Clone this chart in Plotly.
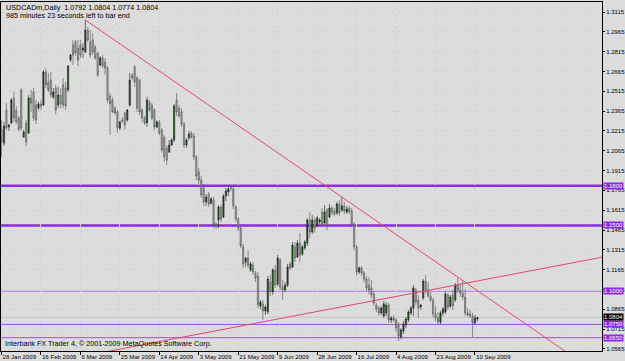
import plotly.graph_objects as go

# ---- Data : daily USDCAD bars, index 0 = 28 Jan 2009 ----
OPEN = [
    1.2222, 1.2123, 1.2373, 1.2245, 1.2275, 1.2464, 1.2373, 1.2313, 1.2525, 1.2169,
    1.2275, 1.2199, 1.2464, 1.2510, 1.2411, 1.2388, 1.2419, 1.2411, 1.2661, 1.2585,
    1.2600, 1.2472, 1.2540, 1.2411, 1.2487, 1.2563, 1.2540, 1.2525, 1.2752, 1.2865,
    1.2888, 1.2843, 1.2865, 1.2828, 1.2812, 1.2979, 1.2888, 1.2903, 1.2850, 1.2805,
    1.2714, 1.2767, 1.2737, 1.2691, 1.2479, 1.2449, 1.2388, 1.2358, 1.2237, 1.2298,
    1.2351, 1.2298, 1.2411, 1.2638, 1.2699, 1.2616, 1.2600, 1.2373, 1.2313, 1.2275,
    1.2434, 1.2411, 1.2373, 1.2245, 1.2283, 1.2222, 1.2169, 1.2086, 1.2055, 1.2108,
    1.2146, 1.2449, 1.2388, 1.2358, 1.2267, 1.2108, 1.2161, 1.2199, 1.2177, 1.2018,
    1.1904, 1.1843, 1.1783, 1.1677, 1.1737, 1.1669, 1.1692, 1.1510, 1.1540, 1.1639,
    1.1563, 1.1722, 1.1753, 1.1783, 1.1775, 1.1639, 1.1548, 1.1480, 1.1336, 1.1223,
    1.1253, 1.1162, 1.1200, 1.1139, 1.1117, 1.0890, 1.0905, 1.0852, 1.0844, 1.1071,
    1.0996, 1.1162, 1.1056, 1.1238, 1.1033, 1.1011, 1.1048, 1.1208, 1.1185, 1.1336,
    1.1261, 1.1366, 1.1283, 1.1329, 1.1366, 1.1541, 1.1450, 1.1541, 1.1495, 1.1526,
    1.1601, 1.1518, 1.1616, 1.1563, 1.1631, 1.1609, 1.1594, 1.1662, 1.1616, 1.1647,
    1.1601, 1.1631, 1.1609, 1.1510, 1.1336, 1.1147, 1.1177, 1.1139, 1.1094, 1.1048,
    1.1026, 1.0980, 1.0897, 1.0874, 1.0837, 1.0814, 1.0837, 1.0897, 1.0784, 1.0799,
    1.0784, 1.0746, 1.0655, 1.0700, 1.0746, 1.0784, 1.0837, 1.0874, 1.1011, 1.0935,
    1.0882, 1.0950, 1.1079, 1.1011, 1.0965, 1.0935, 1.0829, 1.0799, 1.0768, 1.0837,
    1.0844, 1.0973, 1.0890, 1.0973, 1.0935, 1.1048, 1.1011, 1.0988, 1.0958, 1.0837,
    1.0829, 1.0814, 1.0761, 1.0792,
]
HIGH = [
    1.2298, 1.2283, 1.2426, 1.2267, 1.2464, 1.2510, 1.2404, 1.2328, 1.2540, 1.2222,
    1.2298, 1.2487, 1.2525, 1.2540, 1.2449, 1.2434, 1.2449, 1.2676, 1.2691, 1.2653,
    1.2661, 1.2540, 1.2563, 1.2547, 1.2540, 1.2616, 1.2585, 1.2714, 1.2797, 1.2903,
    1.2903, 1.2903, 1.2903, 1.2880, 1.3055, 1.3002, 1.2979, 1.2956, 1.2865, 1.2812,
    1.2782, 1.2790, 1.2767, 1.2706, 1.2502, 1.2472, 1.2404, 1.2373, 1.2290, 1.2320,
    1.2358, 1.2381, 1.2653, 1.2653, 1.2714, 1.2631, 1.2608, 1.2388, 1.2328, 1.2472,
    1.2449, 1.2426, 1.2388, 1.2298, 1.2298, 1.2237, 1.2184, 1.2108, 1.2146, 1.2161,
    1.2419, 1.2502, 1.2411, 1.2388, 1.2283, 1.2161, 1.2214, 1.2214, 1.2199, 1.2033,
    1.1934, 1.1874, 1.1813, 1.1737, 1.1753, 1.1715, 1.1715, 1.1525, 1.1654, 1.1654,
    1.1737, 1.1783, 1.1790, 1.1806, 1.1798, 1.1654, 1.1563, 1.1495, 1.1359, 1.1261,
    1.1313, 1.1223, 1.1223, 1.1155, 1.1147, 1.0935, 1.0935, 1.0897, 1.1117, 1.1124,
    1.1177, 1.1200, 1.1276, 1.1253, 1.1086, 1.1071, 1.1208, 1.1223, 1.1374, 1.1374,
    1.1389, 1.1442, 1.1351, 1.1389, 1.1556, 1.1601, 1.1578, 1.1563, 1.1571, 1.1556,
    1.1631, 1.1654, 1.1631, 1.1662, 1.1647, 1.1631, 1.1677, 1.1692, 1.1715, 1.1677,
    1.1647, 1.1647, 1.1631, 1.1525, 1.1351, 1.1192, 1.1192, 1.1155, 1.1117, 1.1109,
    1.1086, 1.1003, 1.0912, 1.0890, 1.0890, 1.0927, 1.0920, 1.0912, 1.0814, 1.0822,
    1.0799, 1.0768, 1.0723, 1.0776, 1.0806, 1.0859, 1.0890, 1.1048, 1.1026, 1.0973,
    1.0905, 1.1094, 1.1124, 1.1071, 1.0996, 1.0950, 1.0890, 1.0844, 1.0852, 1.0882,
    1.1003, 1.0988, 1.0973, 1.1011, 1.1064, 1.1102, 1.1064, 1.1086, 1.1018, 1.0874,
    1.0859, 1.0837, 1.0822, 1.0804,
]
LOW = [
    1.2017, 1.2101, 1.2222, 1.2214, 1.2267, 1.2283, 1.2267, 1.2214, 1.2214, 1.2161,
    1.2101, 1.2192, 1.2358, 1.2290, 1.2267, 1.2373, 1.2373, 1.2404, 1.2540, 1.2510,
    1.2464, 1.2457, 1.2343, 1.2388, 1.2388, 1.2388, 1.2373, 1.2510, 1.2737, 1.2714,
    1.2782, 1.2706, 1.2767, 1.2767, 1.2805, 1.2888, 1.2767, 1.2790, 1.2752, 1.2623,
    1.2706, 1.2691, 1.2638, 1.2426, 1.2184, 1.2351, 1.2335, 1.2199, 1.2222, 1.2275,
    1.2222, 1.2283, 1.2396, 1.2600, 1.2547, 1.2358, 1.2335, 1.2283, 1.2260, 1.2245,
    1.2358, 1.2298, 1.2222, 1.2237, 1.2184, 1.2049, 1.1980, 1.1957, 1.2048, 1.2101,
    1.2131, 1.2328, 1.2313, 1.2245, 1.2086, 1.2086, 1.2146, 1.2154, 1.1995, 1.1843,
    1.1813, 1.1707, 1.1647, 1.1647, 1.1639, 1.1654, 1.1480, 1.1472, 1.1480, 1.1525,
    1.1556, 1.1684, 1.1722, 1.1760, 1.1624, 1.1525, 1.1457, 1.1329, 1.1177, 1.1185,
    1.1177, 1.1147, 1.1124, 1.1071, 1.0874, 1.0867, 1.0784, 1.0822, 1.0829, 1.0965,
    1.0973, 1.1026, 1.1040, 1.1011, 1.0935, 1.0996, 1.1033, 1.1162, 1.1177, 1.1223,
    1.1253, 1.1223, 1.1268, 1.1314, 1.1344, 1.1404, 1.1435, 1.1442, 1.1487, 1.1510,
    1.1495, 1.1510, 1.1465, 1.1556, 1.1578, 1.1571, 1.1578, 1.1571, 1.1601, 1.1586,
    1.1586, 1.1586, 1.1495, 1.1313, 1.1117, 1.1132, 1.1117, 1.1071, 1.1003, 1.0980,
    1.0950, 1.0890, 1.0844, 1.0814, 1.0822, 1.0799, 1.0814, 1.0761, 1.0761, 1.0768,
    1.0693, 1.0625, 1.0640, 1.0678, 1.0723, 1.0768, 1.0822, 1.0814, 1.0897, 1.0799,
    1.0859, 1.0935, 1.0980, 1.0950, 1.0920, 1.0806, 1.0776, 1.0746, 1.0753, 1.0814,
    1.0829, 1.0859, 1.0874, 1.0859, 1.0920, 1.0988, 1.0958, 1.0935, 1.0814, 1.0806,
    1.0799, 1.0655, 1.0746, 1.0774,
]
CLOSE = [
    1.2131, 1.2252, 1.2237, 1.2260, 1.2449, 1.2313, 1.2283, 1.2229, 1.2237, 1.2207,
    1.2131, 1.2464, 1.2426, 1.2313, 1.2298, 1.2419, 1.2404, 1.2661, 1.2563, 1.2525,
    1.2487, 1.2510, 1.2373, 1.2487, 1.2419, 1.2411, 1.2404, 1.2706, 1.2790, 1.2790,
    1.2805, 1.2752, 1.2790, 1.2843, 1.2979, 1.2903, 1.2790, 1.2812, 1.2767, 1.2638,
    1.2767, 1.2706, 1.2691, 1.2449, 1.2419, 1.2358, 1.2351, 1.2237, 1.2283, 1.2290,
    1.2260, 1.2373, 1.2600, 1.2616, 1.2585, 1.2388, 1.2358, 1.2313, 1.2275, 1.2449,
    1.2373, 1.2313, 1.2245, 1.2283, 1.2199, 1.2070, 1.2018, 1.1995, 1.2108, 1.2146,
    1.2404, 1.2358, 1.2328, 1.2267, 1.2108, 1.2146, 1.2192, 1.2169, 1.2018, 1.1874,
    1.1843, 1.1730, 1.1677, 1.1715, 1.1662, 1.1700, 1.1503, 1.1495, 1.1639, 1.1548,
    1.1722, 1.1760, 1.1775, 1.1780, 1.1647, 1.1548, 1.1480, 1.1344, 1.1208, 1.1253,
    1.1200, 1.1208, 1.1147, 1.1102, 1.0897, 1.0920, 1.0852, 1.0882, 1.1094, 1.0996,
    1.1162, 1.1048, 1.1253, 1.1033, 1.1011, 1.1048, 1.1185, 1.1177, 1.1351, 1.1253,
    1.1366, 1.1276, 1.1336, 1.1374, 1.1541, 1.1450, 1.1541, 1.1480, 1.1556, 1.1541,
    1.1510, 1.1601, 1.1495, 1.1631, 1.1601, 1.1586, 1.1662, 1.1594, 1.1647, 1.1609,
    1.1624, 1.1601, 1.1510, 1.1336, 1.1147, 1.1177, 1.1139, 1.1094, 1.1026, 1.1011,
    1.0973, 1.0912, 1.0867, 1.0837, 1.0874, 1.0905, 1.0897, 1.0784, 1.0799, 1.0784,
    1.0723, 1.0663, 1.0708, 1.0753, 1.0791, 1.0844, 1.0874, 1.1026, 1.0920, 1.0874,
    1.0897, 1.1079, 1.1011, 1.0965, 1.0935, 1.0829, 1.0799, 1.0768, 1.0837, 1.0867,
    1.0980, 1.0882, 1.0958, 1.0890, 1.1048, 1.1011, 1.0988, 1.0958, 1.0837, 1.0822,
    1.0814, 1.0761, 1.0799, 1.0804,
]

TICK_BARS = [0, 16, 32, 48, 64, 80, 96, 112, 128, 144, 160, 176, 192]
TICK_LABELS = ["28 Jan 2009", "16 Feb 2009", "6 Mar 2009", "25 Mar 2009", "14 Apr 2009",
               "3 May 2009", "21 May 2009", "9 Jun 2009", "28 Jun 2009", "16 Jul 2009",
               "4 Aug 2009", "23 Aug 2009", "10 Sep 2009"]
PRICE_TICKS = [1.3115, 1.2965, 1.2815, 1.2665, 1.2515, 1.2365, 1.2215, 1.2065, 1.1915,
               1.1765, 1.1615, 1.1465, 1.1315, 1.1165, 1.1015, 1.0865, 1.0715, 1.0565]

LEVELS_MAJOR = [1.1800, 1.1500]
LEVELS_MINOR = [1.1000, 1.0750, 1.0650]
BID = 1.0804

TREND_DOWN_BARS = [34, 232]
TREND_DOWN_PRICES = [1.3055, 1.0503]
TREND_UP_BARS = [40, 250]
TREND_UP_PRICES = [1.0535, 1.1282]

TITLE_1 = "USDCADm,Daily  1.0792 1.0804 1.0774 1.0804"
TITLE_2 = "985 minutes 23 seconds left to bar end"
FOOTER = "Interbank FX Trader 4, © 2001-2009 MetaQuotes Software Corp."

FONT = "Liberation Sans, Arial, sans-serif"
BG = "#dcdcdc"

n = min(len(OPEN), len(HIGH), len(LOW), len(CLOSE))
bars = list(range(n))

fig = go.Figure()
fig.add_trace(go.Candlestick(
    x=bars, open=OPEN[:n], high=HIGH[:n], low=LOW[:n], close=CLOSE[:n],
    increasing=dict(fillcolor="#0e6a0e", line=dict(color="#1a1a1a", width=0.6)),
    decreasing=dict(fillcolor="#a8a8a8", line=dict(color="#505050", width=0.6)),
    whiskerwidth=0, hoverinfo="skip", showlegend=False,
))
fig.add_trace(go.Scatter(x=TREND_DOWN_BARS, y=TREND_DOWN_PRICES, mode="lines",
                         line=dict(color="#e4486f", width=1), hoverinfo="skip", showlegend=False))
fig.add_trace(go.Scatter(x=TREND_UP_BARS, y=TREND_UP_PRICES, mode="lines",
                         line=dict(color="#e4486f", width=1), hoverinfo="skip", showlegend=False))

shapes = []
shapes.append(dict(type="line", xref="paper", x0=0, x1=1, yref="y", y0=BID, y1=BID,
                   line=dict(color="#c4c4c4", width=1), layer="below"))
for lv in LEVELS_MAJOR:
    shapes.append(dict(type="line", xref="paper", x0=0, x1=1, yref="y", y0=lv, y1=lv,
                       line=dict(color="#8a2be2", width=2.5), layer="below"))
for k, lv in enumerate(LEVELS_MINOR):
    shapes.append(dict(type="line", xref="paper", x0=0, x1=1, yref="y", y0=lv, y1=lv,
                       line=dict(color="#b98ae8" if k == 0 else "#9a52e0", width=1.2 if k == 0 else 1),
                       layer="below"))

ann = []
for lv in LEVELS_MAJOR + LEVELS_MINOR:
    ann.append(dict(xref="paper", x=1, xanchor="left", xshift=1, yref="y", y=lv,
                    text=f"{lv:.4f}", showarrow=False, bgcolor="#8a2be2",
                    font=dict(color="white", size=6, family=FONT), borderpad=0))
ann.append(dict(xref="paper", x=1, xanchor="left", xshift=1, yref="y", y=BID,
                text=f"{BID:.4f}", showarrow=False, bgcolor="#000000",
                font=dict(color="white", size=6, family=FONT), borderpad=0))
ann.append(dict(xref="paper", yref="paper", x=0, y=1, xanchor="left", yanchor="top",
                xshift=3, yshift=1, text=TITLE_1, showarrow=False,
                font=dict(color="black", size=7.2, family=FONT)))
ann.append(dict(xref="paper", yref="paper", x=0, y=1, xanchor="left", yanchor="top",
                xshift=3, yshift=-7, text=TITLE_2, showarrow=False,
                font=dict(color="black", size=7.2, family=FONT)))
ann.append(dict(xref="paper", yref="paper", x=0, y=0, xanchor="left", yanchor="bottom",
                xshift=2, yshift=1, text=FOOTER, showarrow=False,
                font=dict(color="black", size=7.2, family=FONT)))

fig.update_layout(
    width=625, height=361,
    margin=dict(l=1, r=23, t=2, b=10, autoexpand=False),
    paper_bgcolor=BG, plot_bgcolor=BG,
    shapes=shapes, annotations=ann,
    showlegend=False, hovermode=False,
    font=dict(family=FONT, size=6, color="black"),
    xaxis=dict(range=[-0.2, 243.5], tickmode="array", tickvals=TICK_BARS, ticktext=TICK_LABELS,
               ticks="outside", ticklen=3, tickcolor="black", ticklabelposition="outside right",
               tickangle=0, automargin=False,
               tickfont=dict(size=6.1, family=FONT, color="black"),
               showline=True, linecolor="black", linewidth=1, mirror=True,
               showgrid=True, gridcolor="#d2d2d2", griddash="dot", gridwidth=1,
               zeroline=False, rangeslider=dict(visible=False), fixedrange=True),
    yaxis=dict(range=[1.0549, 1.3191], side="right", tickmode="array", tickvals=PRICE_TICKS,
               tickformat=".4f", ticks="outside", ticklen=2, tickcolor="black", automargin=False,
               tickfont=dict(size=6, family=FONT, color="black"),
               showline=True, linecolor="black", linewidth=1, mirror=True,
               showgrid=True, gridcolor="#d2d2d2", griddash="dot", gridwidth=1,
               zeroline=False, fixedrange=True),
)

fig.write_html("out.html", config={"displayModeBar": False, "staticPlot": True})
